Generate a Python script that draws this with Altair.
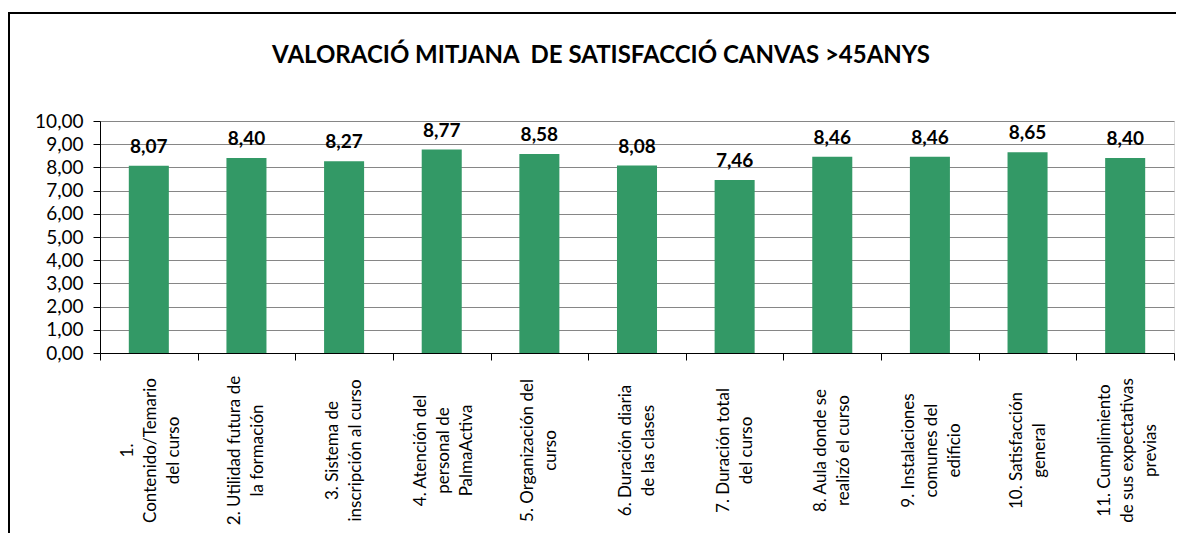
import altair as alt
import pandas as pd

categories = [
    "1.|Contenido/Temario|del curso",
    "2. Utilidad futura de|la formación",
    "3. Sistema de|inscripción al curso",
    "4. Atención del|personal de|PalmaActiva",
    "5. Organización del|curso",
    "6. Duración diaria|de las clases",
    "7. Duración total|del curso",
    "8. Aula donde se|realizó el curso",
    "9. Instalaciones|comunes del|edificio",
    "10. Satisfacción|general",
    "11. Cumplimiento|de sus expectativas|previas",
]
values = [8.07, 8.40, 8.27, 8.77, 8.58, 8.08, 7.46, 8.46, 8.46, 8.65, 8.40]
y_ticks = [0, 1, 2, 3, 4, 5, 6, 7, 8, 9, 10]
title_text = "VALORACIÓ MITJANA\u00a0 DE SATISFACCIÓ CANVAS >45ANYS"

FONT = "Lato"
W, H = 1074, 232
PAD_L, PAD_T, PAD_R, PAD_B = 92, 113, 2, 180
TOTAL_H = PAD_T + H + PAD_B
LH = 23

df = pd.DataFrame({"cat": categories, "val": values})

x_enc = alt.X(
    "cat:N",
    sort=None,
    scale=alt.Scale(paddingInner=0, paddingOuter=0),
    axis=alt.Axis(
        title=None,
        labelAngle=-90,
        labelAlign="center",
        labelBaseline="middle",
        labelPadding=90,
        labelExpr="split(datum.label, '|')",
        labelFont=FONT,
        labelFontSize=17,
        labelLineHeight=LH,
        labelColor="black",
        labelLimit=300,
        labelOffset={
            "condition": [
                {"test": "length(split(datum.value, '|')) == 3", "value": -LH + 2},
                {"test": "length(split(datum.value, '|')) == 2", "value": -LH / 2},
            ],
            "value": 0,
        },
        tickBand="extent",
        tickSize=7,
        tickColor="black",
        domainColor="black",
        grid=False,
    ),
)
y_enc = alt.Y(
    "val:Q",
    scale=alt.Scale(domain=[0, 10]),
    axis=alt.Axis(
        title=None,
        values=y_ticks,
        labelExpr="replace(format(datum.value, '.2f'), '.', ',')",
        labelFont=FONT,
        labelFontSize=19,
        labelColor="black",
        labelPadding=10,
        tickSize=7,
        tickColor="black",
        domainColor="black",
        gridColor="#868686",
        gridOpacity=1,
    ),
)

bars = alt.Chart(df).mark_bar(color="#339966", width=alt.RelativeBandSize(0.41)).encode(x=x_enc, y=y_enc)

labels = (
    alt.Chart(df)
    .transform_calculate(lbl="replace(format(datum.val, '.2f'), '.', ',')")
    .mark_text(baseline="bottom", dy=-9, font=FONT, fontSize=19, fontWeight="bold", color="black")
    .encode(x=x_enc, y=y_enc, text="lbl:N")
)

border_df = pd.DataFrame({"a": [0]})
left_b = alt.Chart(border_df).mark_rule(color="black", strokeWidth=2).encode(
    x=alt.value(-91), y=alt.value(-109), y2=alt.value(TOTAL_H - PAD_T)
)
top_b = alt.Chart(border_df).mark_rule(color="black", strokeWidth=2).encode(
    x=alt.value(-92), x2=alt.value(W + PAD_R), y=alt.value(-108)
)

chart = (
    alt.layer(bars, labels, left_b, top_b)
    .properties(
        width=W,
        height=H,
        padding={"left": PAD_L, "top": PAD_T, "right": PAD_R, "bottom": PAD_B},
        autosize=alt.AutoSizeParams(type="none"),
        title=alt.TitleParams(
            title_text,
            font=FONT,
            fontSize=24,
            fontWeight="bold",
            color="black",
            anchor="middle",
            dx=-36,
            offset=-57,
        ),
    )
    .configure_view(stroke="#868686")
    .configure(background="white")
)

chart.save("out.html", embed_options={"renderer": "svg", "actions": False})
